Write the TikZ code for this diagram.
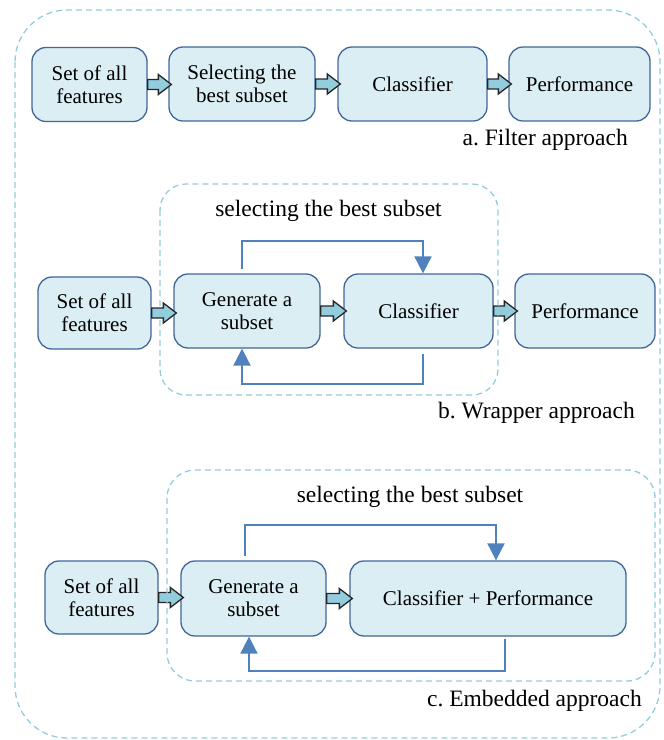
\documentclass[tikz,border=0pt]{standalone}
\usepackage{fontspec}
\setmainfont{Liberation Serif}
\frenchspacing
\usetikzlibrary{arrows.meta,calc}
\definecolor{boxfill}{HTML}{DAEEF3}
\definecolor{boxline}{HTML}{41669A}
\definecolor{arrfill}{HTML}{93CDDD}
\definecolor{loopblue}{HTML}{4F81BD}
\definecolor{dashblue}{HTML}{93CDDD}
\tikzset{
  box/.style={draw=boxline, fill=boxfill, line width=1.3pt, rounded corners=14pt,
    minimum height=74pt, align=center, inner sep=2pt,
    font=\fontsize{21}{23}\selectfont},
  blockarrow/.style={draw=black!85, fill=arrfill, line width=1.3pt},
  feedback/.style={draw=loopblue, line width=2pt, -{Triangle[width=17pt,length=17pt]}},
  dashbox/.style={draw=dashblue, line width=1.3pt, dash pattern=on 6pt off 4pt},
  caption/.style={font=\fontsize{23.5}{26}\selectfont, inner sep=0pt},
}
% block arrow from the right side of #1 to the left side of #2
\newcommand{\blockarr}[2]{%
  \draw[blockarrow] ($(#1.east)+(0,-5)$) -- ($(#1.east -| #2.west)+(-10,-5)$)
    -- ($(#1.east -| #2.west)+(-10,-10)$) -- ($(#1.east -| #2.west)+(3,0)$)
    -- ($(#1.east -| #2.west)+(-10,10)$) -- ($(#1.east -| #2.west)+(-10,5)$)
    -- ($(#1.east)+(0,5)$) -- cycle;}
\begin{document}
\begin{tikzpicture}[x=1pt,y=-1pt]
    \useasboundingbox (0,0) rectangle (664,740);
    % a. filter
    \node[box, minimum width=115pt] (setA) at (89.5,84.5) {Set of all\\features};
    \node[box, minimum width=146pt] (selA) at (242,84) {Selecting the\\best subset};
    \node[box, minimum width=149pt] (clsA) at (412.5,84) {Classifier};
    \node[box, minimum width=141pt] (perfA) at (579.5,84) {Performance};
    \blockarr{setA}{selA}
    \blockarr{selA}{clsA}
    \blockarr{clsA}{perfA}
    \node[caption, anchor=base east] (capA) at (628,145) {a. Filter approach};
    % b. wrapper
    \node[box, minimum width=113pt, minimum height=72pt] (setB) at (94.5,313) {Set of all\\features};
    \node[box, minimum width=146pt] (genB) at (247,311) {Generate a\\subset};
    \node[box, minimum width=149pt] (clsB) at (418.5,311) {Classifier};
    \node[box, minimum width=140pt] (perfB) at (585,311) {Performance};
    \blockarr{setB}{genB}
    \blockarr{genB}{clsB}
    \blockarr{clsB}{perfB}
    \draw[feedback] ($(genB.north)+(-5,-4)$) -- ++(0,-28) -| ($(clsB.north)+(4.5,0)$);
    \draw[feedback] ($(clsB.south)+(4.5,5)$) -- ++(0,30) -| ($(genB.south)+(-5,0)$);
    \node[caption, anchor=base] (selB) at (328.5,216) {selecting the best subset};
    \node[caption, anchor=base east] (capB) at (635,418) {b. Wrapper approach};
    % c. embedded
    \node[box, minimum width=113pt, minimum height=73pt] (setC) at (101.5,597.5) {Set of all\\features};
    \node[box, minimum width=145pt, minimum height=75pt] (genC) at (253.5,598.5) {Generate a\\subset};
    \node[box, minimum width=276pt, minimum height=75pt] (clsC) at (488,598.5) {Classifier + Performance};
    \blockarr{setC}{genC}
    \blockarr{genC}{clsC}
    \draw[feedback] ($(genC.north)+(-8.5,-4)$) -- ++(0,-31) -| ($(clsC.north)+(8,0)$);
    \draw[feedback] ($(clsC.south)+(17,2)$) -- ++(0,32) -| ($(genC.south)+(-4.5,0)$);
    \node[caption, anchor=base] (selC) at (410,502) {selecting the best subset};
    \node[caption, anchor=base east] (capC) at (642,706) {c. Embedded approach};
    % dashed frames
    \draw[dashbox, rounded corners=26pt] (160,184) rectangle (498,395);
    \draw[dashbox, rounded corners=28pt] (167,470) rectangle (655,681);
    \draw[dashbox, rounded corners=52pt] (15,10) rectangle (660,738);
\end{tikzpicture}
\end{document}
